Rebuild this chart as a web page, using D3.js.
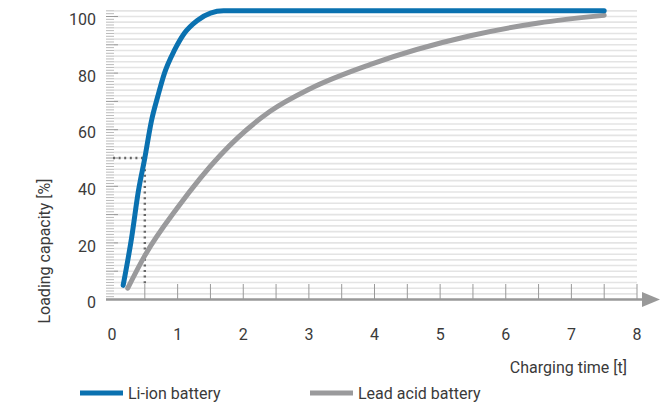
<!DOCTYPE html>
<html>
<head>
<meta charset="utf-8">
<script src="https://cdn.jsdelivr.net/npm/d3@7"></script>
<style>
  body { margin: 0; background: #fff; }
  text { font-family: Roboto, "Open Sans", sans-serif; fill: #3a3a3a; }
</style>
</head>
<body>
<div id="chart"></div>
<script>
var width = 663,
  height = 404;

var liIonTime = [0.17, 0.3, 0.4, 0.5, 0.6, 0.7, 0.8, 0.95, 1.1, 1.3, 1.5, 1.7, 7.5];
var liIonLoad = [5, 22, 38, 50, 63, 72, 80, 88, 94, 98.6, 101.2, 102, 102];
var leadTime = [0.24, 0.5, 1.0, 1.65, 2.41, 3.02, 3.93, 5.46, 6.5, 7.5];
var leadLoad = [4, 15.5, 32.5, 51, 66.5, 74.5, 83, 93.2, 97.7, 100.4];
var xTickLabels = [0, 1, 2, 3, 4, 5, 6, 7, 8];
var yTickLabels = [0, 20, 40, 60, 80, 100];
var seriesNames = ["Li-ion battery", "Lead acid battery"];
var seriesColors = ["#0a71b0", "#9a9a9c"];
var markTime = [0.5];
var markLoad = [50];

var x = d3.scaleLinear().domain([0, 8]).range([112, 637]);
var y = d3.scaleLinear().domain([0, 100]).range([299.5, 16.5]);

var svg = d3.select("#chart").append("svg")
  .attr("width", width)
  .attr("height", height);

// horizontal grid, every 2 units
svg.append("g").selectAll("line")
  .data(d3.range(2, 103, 2))
  .enter().append("line")
  .attr("x1", 114)
  .attr("x2", x(8))
  .attr("y1", function(d) { return y(d); })
  .attr("y2", function(d) { return y(d); })
  .attr("stroke", "#e4e4e4")
  .attr("stroke-width", 1.6);

// left ticks, every unit, longer every 10
svg.append("g").selectAll("line")
  .data(d3.range(1, 103))
  .enter().append("line")
  .attr("x1", 106)
  .attr("x2", function(d) { return d % 10 == 0 ? 118 : 114; })
  .attr("y1", function(d) { return y(d); })
  .attr("y2", function(d) { return y(d); })
  .attr("stroke", function(d) { return d % 10 == 0 ? "#999" : "#bbb"; })
  .attr("stroke-width", 1);

// x ticks every half unit
svg.append("g").selectAll("line")
  .data(d3.range(0.5, 8.01, 0.5))
  .enter().append("line")
  .attr("x1", function(d) { return x(d); })
  .attr("x2", function(d) { return x(d); })
  .attr("y1", 284)
  .attr("y2", y(0))
  .attr("stroke", "#999")
  .attr("stroke-width", 1);

// x axis with arrow
svg.append("line")
  .attr("x1", 106)
  .attr("x2", 644)
  .attr("y1", y(0))
  .attr("y2", y(0))
  .attr("stroke", "#999")
  .attr("stroke-width", 2.5);
svg.append("path")
  .attr("d", "M642," + (y(0) - 7.5) + "L660," + y(0) + "L642," + (y(0) + 7.5) + "Z")
  .attr("fill", "#999");

// tick labels
svg.append("g").selectAll("text")
  .data(yTickLabels)
  .enter().append("text")
  .attr("x", 96)
  .attr("y", function(d) { return y(d) + 3; })
  .attr("dy", "0.35em")
  .attr("text-anchor", "end")
  .style("font-size", "16px")
  .text(function(d) { return d; });

svg.append("g").selectAll("text")
  .data(xTickLabels)
  .enter().append("text")
  .attr("x", function(d) { return x(d); })
  .attr("y", 334)
  .attr("dy", "0.35em")
  .attr("text-anchor", "middle")
  .style("font-size", "16px")
  .text(function(d) { return d; });

// axis titles
svg.append("text")
  .attr("x", 627)
  .attr("y", 367)
  .attr("dy", "0.35em")
  .attr("text-anchor", "end")
  .style("font-size", "16px")
  .text("Charging time [t]");

svg.append("text")
  .attr("transform", "translate(44,251) rotate(-90)")
  .attr("dy", "0.35em")
  .attr("text-anchor", "middle")
  .style("font-size", "16px")
  .text("Loading capacity [%]");

// dotted guide at 50%
svg.append("line")
  .attr("x1", 113)
  .attr("x2", x(markTime[0]))
  .attr("y1", y(markLoad[0]))
  .attr("y2", y(markLoad[0]))
  .attr("stroke", "#666")
  .attr("stroke-width", 2.4)
  .attr("stroke-dasharray", "2,3.6");
svg.append("line")
  .attr("x1", x(markTime[0]))
  .attr("x2", x(markTime[0]))
  .attr("y1", y(markLoad[0]))
  .attr("y2", 286)
  .attr("stroke", "#666")
  .attr("stroke-width", 2.4)
  .attr("stroke-dasharray", "2,3.6");

var line = d3.line()
  .x(function(d) { return x(d[0]); })
  .y(function(d) { return y(d[1]); })
  .curve(d3.curveMonotoneX);

var series = [d3.zip(liIonTime, liIonLoad), d3.zip(leadTime, leadLoad)];

svg.append("g").selectAll("path")
  .data(series.slice().reverse())
  .enter().append("path")
  .attr("d", line)
  .attr("fill", "none")
  .attr("stroke", function(d, i) { return seriesColors[1 - i]; })
  .attr("stroke-width", 5)
  .attr("stroke-linecap", "round");

// legend
var legendX = [80, 310];
var legend = svg.append("g").selectAll("g")
  .data(seriesNames)
  .enter().append("g")
  .attr("transform", function(d, i) { return "translate(" + legendX[i] + ",393)"; });

legend.append("rect")
  .attr("x", 0)
  .attr("y", -2.5)
  .attr("width", 43)
  .attr("height", 5)
  .attr("fill", function(d, i) { return seriesColors[i]; });

legend.append("text")
  .attr("x", 48)
  .attr("dy", "0.35em")
  .style("font-size", "16px")
  .text(function(d) { return d; });
</script>
</body>
</html>
